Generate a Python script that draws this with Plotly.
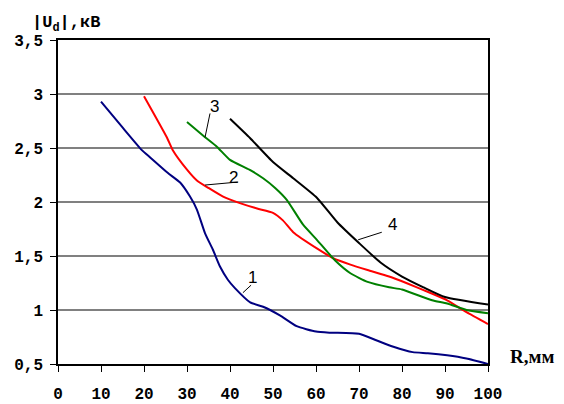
import plotly.graph_objects as go

# Curve data (R in mm, |Ud| in kV)
r1 = [10, 15, 19.5, 21.5, 25.5, 28.4, 30.7, 32.3, 34.2, 36, 37.7, 39.5, 41.2, 44.7, 47.7, 51.6, 55.5, 60, 63.3, 70, 74, 78, 82.5, 86, 90.5, 95, 100]
u1 = [2.93, 2.69, 2.48, 2.41, 2.27, 2.18, 2.05, 1.93, 1.71, 1.56, 1.40, 1.28, 1.20, 1.07, 1.03, 0.95, 0.85, 0.80, 0.79, 0.78, 0.72, 0.66, 0.61, 0.60, 0.58, 0.55, 0.50]

r2 = [20, 25.3, 26.7, 30, 32.3, 35, 38.4, 42.3, 46.3, 50, 52.3, 54.7, 60.2, 64, 68, 72, 77, 81, 86.5, 90.5, 95, 100]
u2 = [2.98, 2.60, 2.48, 2.30, 2.20, 2.13, 2.05, 1.99, 1.94, 1.90, 1.83, 1.72, 1.57, 1.48, 1.42, 1.37, 1.31, 1.25, 1.16, 1.09, 0.98, 0.87]

r3 = [30, 34.2, 37, 40, 44.5, 47.7, 50.5, 53.2, 57, 60.2, 64.4, 68, 72, 77, 80, 87, 90.5, 95, 100]
u3 = [2.74, 2.60, 2.51, 2.39, 2.30, 2.22, 2.13, 2.02, 1.79, 1.65, 1.46, 1.34, 1.26, 1.21, 1.19, 1.09, 1.06, 1.00, 0.97]

r4 = [40, 44.7, 50, 54.7, 60.2, 65, 70, 75, 80, 85, 90, 100]
u4 = [2.77, 2.59, 2.37, 2.22, 2.04, 1.81, 1.62, 1.44, 1.31, 1.21, 1.12, 1.05]

colors = ["#000080", "#FF0000", "#008000", "#000000"]

# Curve labels: text, text position, leader start, leader end (data coords)
label_texts = ["1", "2", "3", "4"]
label_pos = [(45.3, 1.30), (40.7, 2.23), (36.5, 2.88), (77.7, 1.79)]
leader_from = [(44.9, 1.23), (41.9, 2.185), (35.35, 2.82), (75.3, 1.72)]
leader_to = [(43.0, 1.16), (34.2, 2.157), (34.2, 2.60), (69.8, 1.65)]

x_ticks = list(range(0, 101, 10))
y_ticks = [0.5, 1, 1.5, 2, 2.5, 3, 3.5]

fig = go.Figure()
for rr, uu, c in zip([r1, r2, r3, r4], [u1, u2, u3, u4], colors):
    fig.add_trace(go.Scatter(x=rr, y=uu, mode="lines",
                             line=dict(color=c, width=2, shape="spline", smoothing=0.5),
                             showlegend=False, hoverinfo="skip"))

for t, p, a, b in zip(label_texts, label_pos, leader_from, leader_to):
    fig.add_shape(type="line", xref="x", yref="y", x0=a[0], y0=a[1], x1=b[0], y1=b[1],
                  line=dict(color="black", width=1))
    fig.add_annotation(x=p[0], y=p[1], text=t, showarrow=False,
                       font=dict(family="Liberation Sans, Arial", size=17, color="black"))

fig.add_annotation(xref="paper", yref="paper", x=-0.065, y=1.0, yshift=3,
                   xanchor="left", yanchor="bottom", showarrow=False,
                   text="|U<sub>d</sub>|,кВ",
                   font=dict(family="Liberation Mono, Courier New", size=17, color="black", weight="bold"))
fig.add_annotation(xref="paper", yref="y", x=1.046, y=0.57,
                   xanchor="left", yanchor="middle", showarrow=False,
                   text="R,мм",
                   font=dict(family="Liberation Serif, Times New Roman", size=19, color="black", weight="bold"))

fig.update_layout(
    width=564, height=404,
    margin=dict(l=58, r=76, t=40, b=40, autoexpand=False),
    paper_bgcolor="white", plot_bgcolor="white",
    separators=", ",
    font=dict(family="Liberation Mono, Courier New", size=16, color="black"),
)
fig.update_xaxes(range=[0, 100], tickvals=x_ticks, showgrid=False, zeroline=False, automargin=False,
                 showline=True, linecolor="black", linewidth=1.5, mirror=True,
                 ticks="outside", ticklen=6, tickcolor="black", tickwidth=1,
                 ticklabelstandoff=8,
                 tickfont=dict(family="Liberation Mono, Courier New", size=16, weight="bold"))
fig.update_yaxes(range=[0.5, 3.5], tickvals=y_ticks, showgrid=True, gridcolor="#808080", gridwidth=1.5,
                 zeroline=False, automargin=False,
                 showline=True, linecolor="black", linewidth=1.5, mirror=True,
                 ticks="outside", ticklen=6, tickcolor="black", tickwidth=1,
                 ticklabelstandoff=4,
                 tickfont=dict(family="Liberation Mono, Courier New", size=16, weight="bold"))

fig.write_html("out.html", config={"displayModeBar": False},
               post_script="document.body.style.margin='0';document.body.style.overflow='hidden';")
